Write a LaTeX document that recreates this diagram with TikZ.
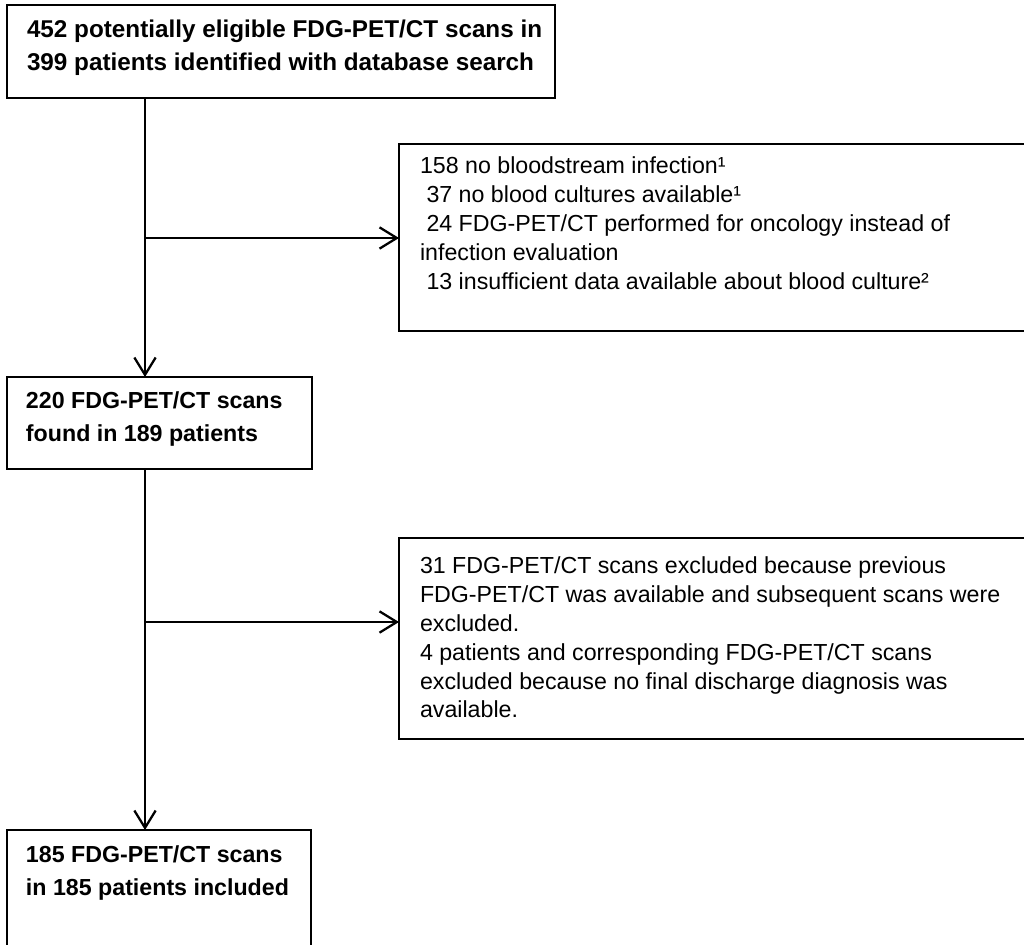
\documentclass[tikz,border=0pt]{standalone}
\usepackage{fontspec}
\setmainfont{Liberation Sans}
\usetikzlibrary{arrows.meta}

\begin{document}
\begin{tikzpicture}[
    x=0.75pt, y=-0.75pt,
    every node/.style={inner sep=0pt, outer sep=0pt},
    line width=1.7pt
]
\tikzset{
    frame/.style={draw, rectangle, anchor=north west},
    boldtxt/.style={anchor=north west, align=left, font=\fontsize{17.4pt}{24.4pt}\selectfont\bfseries},
    plaintxt/.style={anchor=north west, align=left, font=\fontsize{17.4pt}{21.6pt}\selectfont},
    flow/.style={-{Straight Barb[length=13pt,width=16pt]}}
}
\clip (0,0) rectangle (1024,945);

% boxes
\node[frame, minimum width=411pt, minimum height=69.75pt] (search) at (7,5) {};
\node[frame, minimum width=228.75pt, minimum height=69pt] (found) at (7,377) {};
\node[frame, minimum width=228pt, minimum height=150pt] (included) at (7,830) {};
\node[frame, minimum width=525pt, minimum height=140.25pt] (exclA) at (399,144) {};
\node[frame, minimum width=525pt, minimum height=150.75pt] (exclB) at (399,538) {};

% texts
\node[boldtxt, font=\fontsize{18.2pt}{24.4pt}\selectfont\bfseries] (searchtxt) at ([shift={(20,15)}]search.north west)
    {452 potentially eligible FDG-PET/CT scans in\\399 patients identified with database search};
\node[boldtxt] (foundtxt) at ([shift={(19,15)}]found.north west)
    {220 FDG-PET/CT scans\\found in 189 patients};
\node[boldtxt] (includedtxt) at ([shift={(19,16)}]included.north west)
    {185 FDG-PET/CT scans\\in 185 patients included};
\node[plaintxt] (exclAtxt) at ([shift={(21,13)}]exclA.north west)
    {158 no bloodstream infection¹\\
     \hspace*{0.28em}37 no blood cultures available¹\\
     \hspace*{0.28em}24 FDG-PET/CT performed for oncology instead of\\
     infection evaluation\\
     \hspace*{0.28em}13 insufficient data available about blood culture²};
\node[plaintxt] (exclBtxt) at ([shift={(21,19)}]exclB.north west)
    {31 FDG-PET/CT scans excluded because previous\\
     FDG-PET/CT was available and subsequent scans were\\
     excluded.\\
     4 patients and corresponding FDG-PET/CT scans\\
     excluded because no final discharge diagnosis was\\
     available.};

% connectors
\coordinate (spine) at (145,0);
\coordinate (j1) at (145,238);
\coordinate (j2) at (145,622);
\draw[flow] (search.south -| spine) -- (found.north -| spine);
\draw[flow] (found.south -| spine) -- (included.north -| spine);
\draw[flow] (j1) -- (j1 -| exclA.west);
\draw[flow] (j2) -- (j2 -| exclB.west);
\end{tikzpicture}
\end{document}
